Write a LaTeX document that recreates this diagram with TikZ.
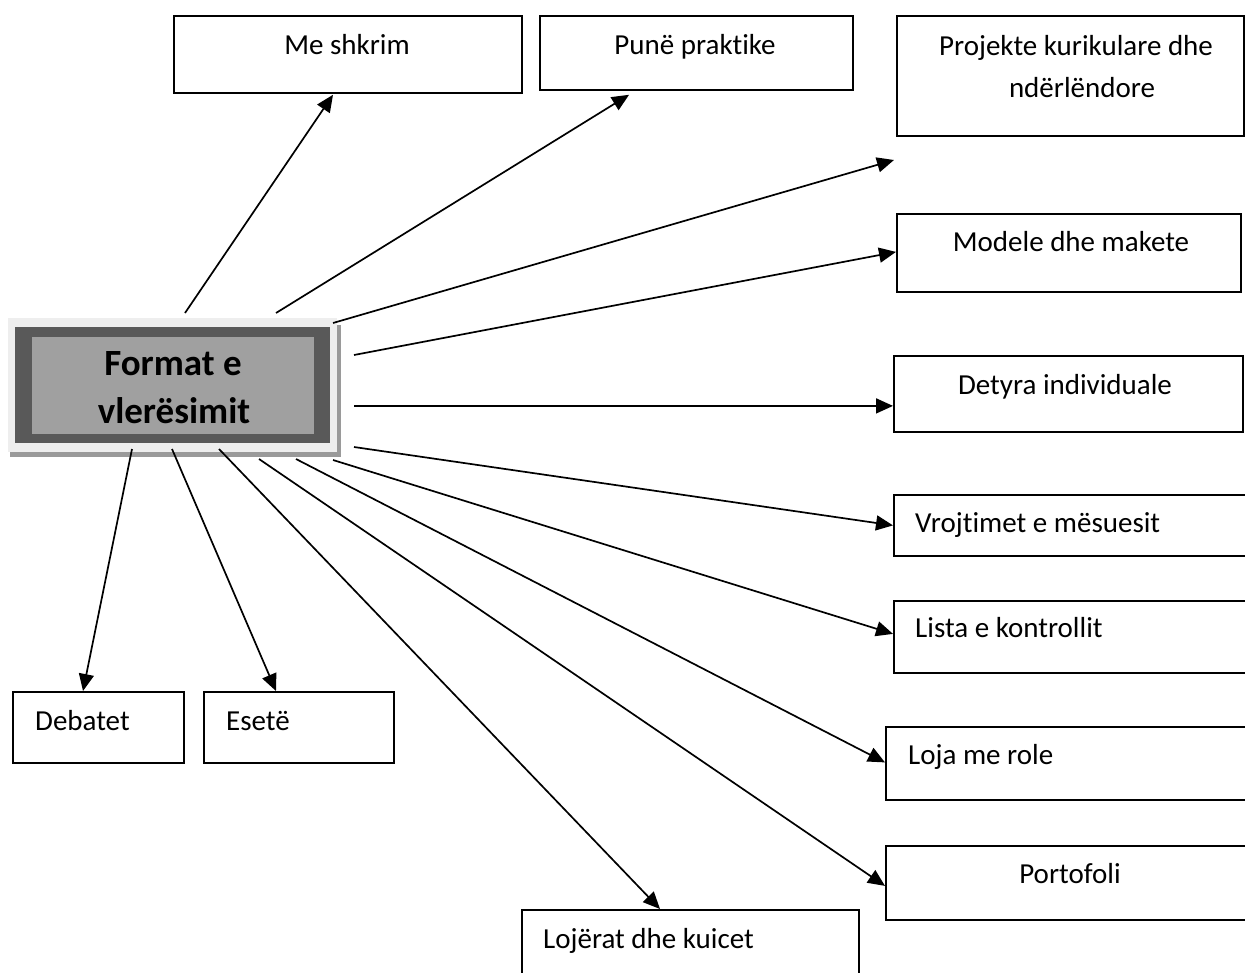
\documentclass[tikz,border=0pt]{standalone}
\usepackage{fontspec}
\setmainfont[Ligatures=NoCommon]{Carlito}
\usetikzlibrary{arrows.meta,calc}
\definecolor{outerg}{HTML}{EEEEEE}
\definecolor{darkg}{HTML}{595959}
\definecolor{innerg}{HTML}{A0A0A0}
\definecolor{shadowg}{HTML}{9A9A9A}
\tikzset{
  box/.style={draw=black,line width=1.8pt,fill=white,anchor=north west,inner sep=0pt},
  txt/.style={inner sep=0pt,font=\fontsize{29}{41}\selectfont},
  ctxt/.style={inner sep=0pt,font=\fontsize{37}{48}\selectfont\bfseries},
  arr/.style={line width=1.7pt,-{Triangle[length=17pt,width=15pt]}}
}
\begin{document}
\begin{tikzpicture}[x=1pt,y=-1pt]
\clip (0,0) rectangle (1245,972);
\fill[white] (0,0) rectangle (1245,972);
% central box
\fill[shadowg] (337,325) rectangle (341,457);
\fill[shadowg] (10,452) rectangle (341,457);
\node[anchor=north west,fill=outerg,minimum width=329pt,minimum height=134pt,inner sep=0pt] (c) at (8,318) {};
\fill[darkg] (15,327) rectangle (330,443);
\fill[innerg] (32,337) rectangle (314,434);
\node[ctxt,anchor=base] (c1) at (173,375) {Format e};
\node[ctxt,anchor=base] (c2) at (174,423) {vlerësimit};
% boxes
\node[box,minimum width=348pt,minimum height=77pt] (me) at (173,15) {};
\node[txt,anchor=base] (meT) at (347,54) {Me shkrim};
\node[box,minimum width=313pt,minimum height=74pt] (pp) at (539,15) {};
\node[txt,anchor=base] (ppT) at (695,54) {Punë praktike};
\node[box,minimum width=347pt,minimum height=120pt] (pr) at (896,15) {};
\node[txt,anchor=base] (prT1) at (1076,55) {Projekte kurikulare dhe};
\node[txt,anchor=base] (prT2) at (1082,97) {ndërlëndore};
\node[box,minimum width=344pt,minimum height=78pt] (mo) at (896,213) {};
\node[txt,anchor=base] (moT) at (1071,251) {Modele dhe makete};
\node[box,minimum width=349pt,minimum height=76pt] (de) at (893,355) {};
\node[txt,anchor=base] (deT) at (1065,394) {Detyra individuale};
\node[box,minimum width=360pt,minimum height=61pt] (vr) at (893,494) {};
\node[txt,anchor=base west] (vrT) at (915,532) {Vrojtimet e mësuesit};
\node[box,minimum width=360pt,minimum height=72pt] (li) at (893,600) {};
\node[txt,anchor=base west] (liT) at (915,637) {Lista e kontrollit};
\node[box,minimum width=370pt,minimum height=73pt] (lo) at (885,726) {};
\node[txt,anchor=base west] (loT) at (908,764) {Loja me role};
\node[box,minimum width=370pt,minimum height=74pt] (po) at (885,845) {};
\node[txt,anchor=base] (poT) at (1070,883) {Portofoli};
\node[box,minimum width=337pt,minimum height=80pt] (lk) at (521,909) {};
\node[txt,anchor=base west] (lkT) at (543,948) {Lojërat dhe kuicet};
\node[box,minimum width=171pt,minimum height=71pt] (db) at (12,691) {};
\node[txt,anchor=base west] (dbT) at (35,730) {Debatet};
\node[box,minimum width=190pt,minimum height=71pt] (es) at (203,691) {};
\node[txt,anchor=base west] (esT) at (226,730) {Esetë};
\coordinate (t3) at (894,160);
% connectors
\draw[arr] ($(c.north west)+(177,-5)$) -- ($(me.south west)+(160,1)$);
\draw[arr] ($(c.north west)+(268,-5)$) -- ($(pp.south west)+(90,4)$);
\draw[arr] ($(c.north west)+(325,5)$) -- (t3);
\draw[arr] ($(c.north west)+(346,37)$) -- ($(mo.west)+(0,-1)$);
\draw[arr] ($(c.north west)+(346,88)$) -- ($(de.west)+(0,12)$);
\draw[arr] ($(c.north west)+(346,129)$) -- (vr.west);
\draw[arr] ($(c.north west)+(325,142)$) -- ($(li.west)+(0,-3)$);
\draw[arr] ($(c.north west)+(288,141)$) -- ($(lo.west)+(0,-1)$);
\draw[arr] ($(c.north west)+(251,141)$) -- ($(po.west)+(0,3)$);
\draw[arr] ($(c.north west)+(211,131)$) -- ($(lk.north west)+(139,0)$);
\draw[arr] ($(c.north west)+(164,131)$) -- ($(es.north west)+(73,0)$);
\draw[arr] ($(c.north west)+(124,131)$) -- ($(db.north west)+(71,0)$);
\end{tikzpicture}
\end{document}
